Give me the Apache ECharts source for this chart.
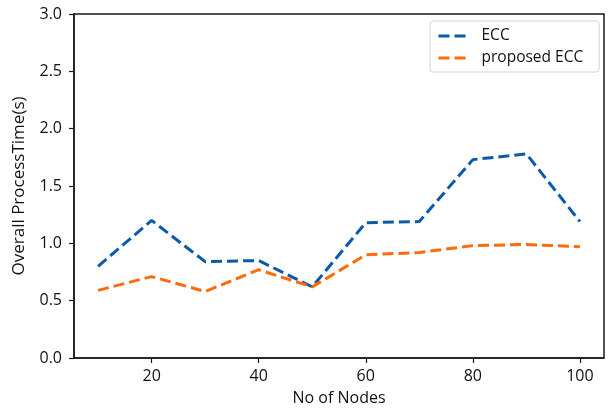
<!DOCTYPE html>
<html>
<head>
<meta charset="utf-8">
<script src="https://cdn.jsdelivr.net/npm/echarts@6/dist/echarts.min.js"></script>
<style>
  html, body { margin: 0; padding: 0; background: #fff; }
  #chart { width: 608px; height: 414px; }
</style>
</head>
<body>
<div id="chart"></div>
<script>
// Number of nodes on the x axis
const nodes = [10, 20, 30, 40, 50, 60, 70, 80, 90, 100];
// Overall processing time in seconds
const eccTime = [0.80, 1.20, 0.84, 0.85, 0.62, 1.18, 1.19, 1.73, 1.78, 1.19];
const proposedEccTime = [0.59, 0.71, 0.58, 0.77, 0.62, 0.90, 0.92, 0.98, 0.99, 0.97];
// Tick positions
const xTicks = [20, 40, 60, 80, 100];

const FONT = 'Open Sans';
const INK = '#111';
const pair = arr => nodes.map((n, i) => [n, arr[i]]);
const dash = [11, 5];

const chart = echarts.init(document.getElementById('chart'), null, { renderer: 'canvas' });
chart.setOption({
  animation: false,
  backgroundColor: '#fff',
  textStyle: { fontFamily: FONT },
  grid: { left: 74, top: 14, right: 4, bottom: 56, show: true, borderColor: '#1a1a1a', borderWidth: 1.5, containLabel: false },
  legend: {
    orient: 'vertical',
    left: 430, top: 21,
    padding: [7, 16, 6, 7],
    itemGap: 6,
    itemWidth: 28, itemHeight: 14,
    borderColor: '#d4d4d4', borderWidth: 1, borderRadius: 3,
    itemStyle: { color: 'rgba(0,0,0,0)', borderColor: 'rgba(0,0,0,0)', borderWidth: 0, opacity: 0 },
    lineStyle: { width: 3, type: dash },
    textStyle: { fontFamily: FONT, fontSize: 15.5, color: INK, padding: [0, 0, 0, 10] },
    data: ['ECC', 'proposed ECC']
  },
  xAxis: {
    type: 'value',
    min: 5.5, max: 104.5,
    name: 'No of Nodes',
    nameLocation: 'middle', nameGap: 32,
    nameTextStyle: { fontFamily: FONT, fontSize: 16, color: INK },
    axisLine: { onZero: false, lineStyle: { color: '#1a1a1a', width: 1.5 } },
    axisTick: { show: true, length: 5, customValues: xTicks, lineStyle: { color: '#1a1a1a', width: 1.2 } },
    axisLabel: { customValues: xTicks, fontSize: 16, color: INK, margin: 10 },
    splitLine: { show: false }
  },
  yAxis: {
    type: 'value',
    min: 0, max: 3, interval: 0.5,
    name: 'Overall ProcessTime(s)',
    nameLocation: 'middle', nameGap: 46,
    nameTextStyle: { fontFamily: FONT, fontSize: 17, color: INK },
    axisLine: { show: true, lineStyle: { color: '#1a1a1a', width: 1.5 } },
    axisTick: { show: true, length: 5, lineStyle: { color: '#1a1a1a', width: 1.2 } },
    axisLabel: { fontSize: 16, color: INK, margin: 12, formatter: v => v.toFixed(1) },
    splitLine: { show: false }
  },
  series: [
    {
      name: 'ECC', type: 'line', data: pair(eccTime),
      symbol: 'none', color: '#0b5aa8',
      lineStyle: { color: '#0b5aa8', width: 3, type: dash }
    },
    {
      name: 'proposed ECC', type: 'line', data: pair(proposedEccTime),
      symbol: 'none', color: '#ff6a0a',
      lineStyle: { color: '#ff6a0a', width: 3, type: dash }
    }
  ]
});
</script>
</body>
</html>
